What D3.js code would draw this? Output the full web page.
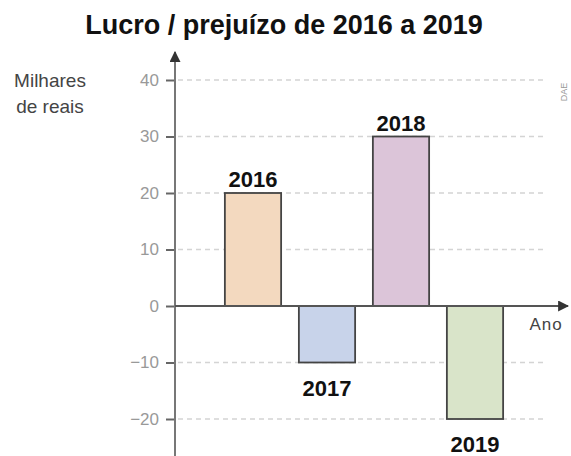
<!DOCTYPE html>
<html>
<head>
<meta charset="utf-8">
<script src="https://cdn.jsdelivr.net/npm/d3@7"></script>
<style>
  body { margin: 0; background: #fff; }
  svg { display: block; font-family: "Liberation Sans", Arial, sans-serif; }
</style>
</head>
<body>
<div id="chart"></div>
<script>
// data
const years = ['2016', '2017', '2018', '2019']
const values = [20, -10, 30, -20]
const barColors = ['#f3d9bf', '#c8d3ea', '#dcc5d9', '#d9e4c9']
const yTicks = [-20, -10, 0, 10, 20, 30, 40]

const width = 571, height = 456

const svg = d3.select('#chart')
  .append('svg')
  .attr('width', width)
  .attr('height', height)

// scales
const y = d3.scaleLinear().domain([-20, 40]).range([419, 80])
const x = d3.scaleBand().domain(years).range([216, 512]).paddingInner(0.24).paddingOuter(0.12)

const axisX = 175

// title
svg.append('text')
  .attr('x', 284)
  .attr('y', 34)
  .attr('text-anchor', 'middle')
  .style('font-size', '27px')
  .style('font-weight', 'bold')
  .style('fill', '#111')
  .text('Lucro / prejuízo de 2016 a 2019')

// y label
svg.append('text')
  .attr('x', 50).attr('y', 87)
  .attr('text-anchor', 'middle')
  .style('font-size', '19px').style('fill', '#444')
  .text('Milhares')
svg.append('text')
  .attr('x', 50).attr('y', 113)
  .attr('text-anchor', 'middle')
  .style('font-size', '19px').style('fill', '#444')
  .text('de reais')

// gridlines
svg.append('g')
  .selectAll('line')
  .data(yTicks.filter(d => d !== 0))
  .join('line')
  .attr('x1', axisX + 3).attr('x2', 547)
  .attr('y1', d => y(d)).attr('y2', d => y(d))
  .style('stroke', '#d4d4d4')
  .style('stroke-width', 1.5)
  .style('stroke-dasharray', '5,4')

// y axis using d3.axisLeft
const yAxis = svg.append('g')
  .attr('transform', `translate(${axisX},0)`)
  .call(d3.axisLeft(y).tickValues(yTicks).tickSize(9).tickPadding(7)
    .tickFormat(d => d < 0 ? '\u2212' + Math.abs(d) : d))
yAxis.select('.domain').remove()
yAxis.selectAll('line').style('stroke', '#666').style('stroke-width', 2)
yAxis.selectAll('text')
  .style('font-size', '17px')
  .style('fill', '#999')
  .style('font-family', '"Liberation Sans", Arial, sans-serif')

// bars
svg.append('g')
  .selectAll('rect')
  .data(years)
  .join('rect')
  .attr('x', d => x(d))
  .attr('width', x.bandwidth())
  .attr('y', (d, i) => y(Math.max(0, values[i])))
  .attr('height', (d, i) => Math.abs(y(values[i]) - y(0)))
  .style('fill', (d, i) => barColors[i])
  .style('stroke', '#444')
  .style('stroke-width', 1.8)

// bar labels
svg.append('g')
  .selectAll('text')
  .data(years)
  .join('text')
  .attr('x', d => x(d) + x.bandwidth() / 2)
  .attr('y', (d, i) => values[i] >= 0 ? y(values[i]) - 6 : y(values[i]) + 33)
  .attr('text-anchor', 'middle')
  .style('font-size', '22px')
  .style('font-weight', 'bold')
  .style('fill', '#111')
  .text(d => d)

// axis lines with arrows
svg.append('defs').append('marker')
  .attr('id', 'arrow')
  .attr('viewBox', '0 0 10 10')
  .attr('refX', 9).attr('refY', 5)
  .attr('markerWidth', 5.5).attr('markerHeight', 5.5)
  .attr('markerUnits', 'strokeWidth')
  .attr('orient', 'auto')
  .append('path')
  .attr('d', 'M0,0L10,5L0,10z')
  .style('fill', '#333')

svg.append('line')
  .attr('x1', axisX).attr('x2', axisX)
  .attr('y1', 456).attr('y2', 52)
  .style('stroke', '#777').style('stroke-width', 2)
  .attr('marker-end', 'url(#arrow)')

svg.append('line')
  .attr('x1', axisX).attr('x2', 568)
  .attr('y1', y(0)).attr('y2', y(0))
  .style('stroke', '#555').style('stroke-width', 2)
  .attr('marker-end', 'url(#arrow)')

svg.append('text')
  .attr('x', 546).attr('y', 330)
  .attr('text-anchor', 'middle')
  .style('font-size', '17px').style('fill', '#444')
  .style('letter-spacing', '1px')
  .text('Ano')

// DAE credit
svg.append('text')
  .attr('transform', 'translate(567,92) rotate(-90)')
  .attr('text-anchor', 'middle')
  .style('font-size', '9px').style('fill', '#999')
  .text('DAE')
</script>
</body>
</html>
